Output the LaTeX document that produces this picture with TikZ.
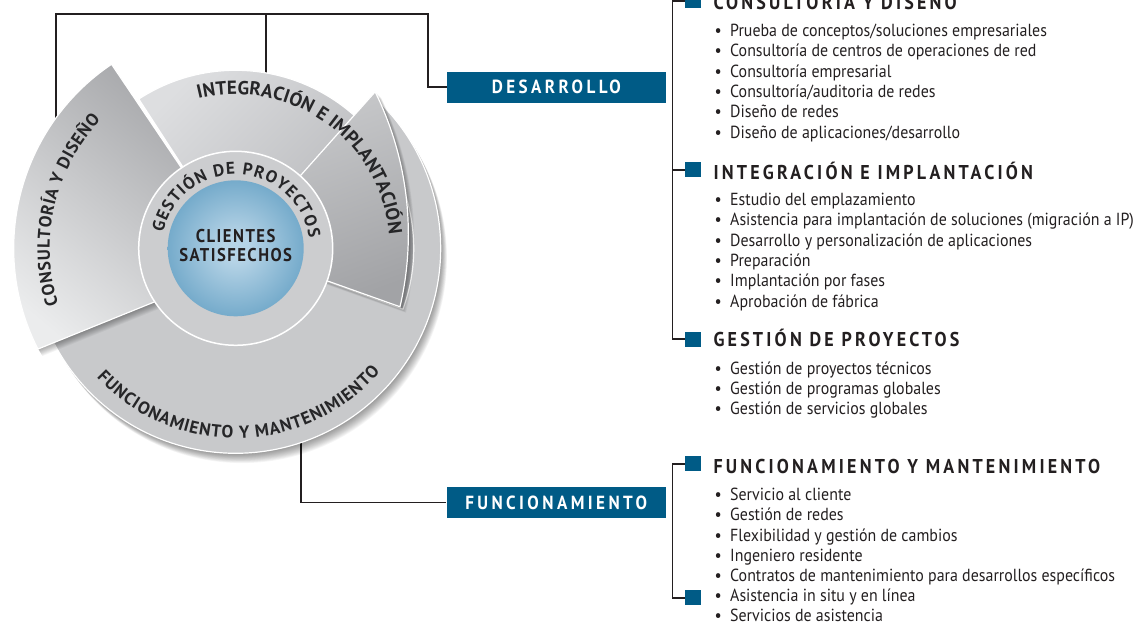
\documentclass[tikz,border=0pt]{standalone}
\usepackage{fontspec}
\setmainfont{PT Sans}[FakeStretch=0.91]
\newfontfamily\headf{PT Sans}[FakeStretch=0.9,LetterSpace=16]
\newfontfamily\boxf{PT Sans}[FakeStretch=0.9,LetterSpace=18]
\newfontfamily\ctrf{PT Sans}[FakeStretch=0.9,LetterSpace=8]
\newfontfamily\ringf{PT Sans}
\usetikzlibrary{calc,decorations.text}
\definecolor{ink}{HTML}{231F20}
\definecolor{ringink}{HTML}{262628}
\definecolor{blueb}{HTML}{005B86}
\definecolor{discg}{HTML}{C8C9CB}
\definecolor{ringg}{HTML}{CCCDCF}
\definecolor{intL}{HTML}{DDDEE0}
\definecolor{intD}{HTML}{ADAEB1}
\definecolor{drkL}{HTML}{C9CACC}
\definecolor{drkD}{HTML}{A2A3A6}
\definecolor{conL}{HTML}{EBECED}
\definecolor{conD}{HTML}{A3A4A7}
\definecolor{blueL}{HTML}{B5D3E6}
\definecolor{blueM}{HTML}{6CA5C7}
\definecolor{blueD}{HTML}{2A78A3}
\pgfdeclareradialshading{bluesh}{\pgfpoint{0bp}{0bp}}{color(0bp)=(blueL); color(5bp)=(blueL); color(28bp)=(blueM); color(50bp)=(blueD)}
\def\cx{235.7}
\def\cy{376.7}
\newcommand\FunSector[1]{\path[#1] (\cx,\cy) -- ++(48.3:205) arc[start angle=48.3,end angle=-153,radius=205] -- cycle;}
\newcommand\IntSector[1]{\path[#1] (\cx,\cy) -- ++(123:178) arc[start angle=123,end angle=-20,radius=178] -- cycle;}
\newcommand\DarkWedge[1]{\path[#1] (\cx,\cy) -- ++(48.3:209.6) arc[start angle=26.3,end angle=-13.1,radius=321] -- cycle;}
\newcommand\ConWedge[1]{\path[#1] (\cx,\cy) -- ++(124:222) arc[start angle=124,end angle=207,radius=222] -- (155,323.3) -- (235.7,355.3) -- cycle;}
\newcommand\bul{\makebox[0pt][c]{•}\hspace{12pt}}
\tikzset{
  conn/.style={draw=ink,line width=1.6pt},
  bluebox/.style={fill=blueb,text=white,minimum width=219.3pt,minimum height=31pt,inner sep=0pt,font=\boxf\bfseries\fontsize{19}{21}\selectfont},
  sq/.style={fill=blueb,minimum width=16pt,minimum height=15pt,inner sep=0pt},
  head/.style={anchor=base west,inner sep=0pt,text=ink,font=\headf\bfseries\fontsize{20}{22}\selectfont},
  item/.style={anchor=base west,inner sep=0pt,text=ink,font=\fontsize{17.5}{19}\selectfont},
  ctr/.style={anchor=base,inner sep=0pt,text=ink,font=\ctrf\bfseries\fontsize{18.5}{20}\selectfont},
  ringdeco/.style={decorate,decoration={text along path,text align=fit to path,text color=ringink,text={#1}}},
  outl/.style={draw=white,line width=1.2pt}
}
\begin{document}
\begin{tikzpicture}[x=1pt,y=1pt]
\useasboundingbox (0,0) rectangle (1144,625);
\clip (0,0) rectangle (1144,625);
\coordinate (O) at (\cx,\cy);
% connectors
\coordinate (c1) at (55.7,505);
\coordinate (c2) at (266,548);
\coordinate (c3) at (300.7,186);
\coordinate (t1) at (55.7,611);
\coordinate (t2) at (266,611);
\coordinate (t3) at (427.7,611);
\node[bluebox] (des) at (556.35,537.8) {DESARROLLO};
\node[bluebox] (fun) at (556.2,122.5) {FUNCIONAMIENTO};
\draw[conn] (c1) -- (t1) -- (t3) |- (des.west);
\draw[conn] (t2) -- (c2);
\draw[conn] (c3) |- (fun.west);
% disc
\foreach \k in {1,...,14} {\FunSector{fill=black,opacity=0.035,shift={(0.45*\k,-0.7*\k)}}}
\FunSector{fill=discg,outl}
\IntSector{top color=intL,bottom color=intD,shading angle=45,outl}
\foreach \k in {1,...,10} {\DarkWedge{fill=black,opacity=0.04,shift={(0.6*\k,-0.6*\k)}}}
\DarkWedge{top color=drkL,bottom color=drkD,shading angle=20,outl}
\foreach \k in {1,...,10} {\ConWedge{fill=black,opacity=0.04,shift={(0.45*\k,-0.7*\k)}}}
\ConWedge{top color=conD,bottom color=conL,shading angle=-40,outl}
\fill[ringg,draw=white,line width=1.5pt] (O) circle (97);
\shade[shading=bluesh] (O) circle (68);
% ring texts
\path[ringdeco={|\ringf\bfseries\fontsize{17}{17}\selectfont|GESTIÓN DE PROYECTOS}] ($(O)+(168:74)$) arc[start angle=168,end angle=8,radius=74];
\path[ringdeco={|\ringf\bfseries\fontsize{19}{19}\selectfont|INTEGRACIÓN E IMPLANTACIÓN}] ($(O)+(104:154)$) arc[start angle=104,end angle=5,radius=154];
\path[ringdeco={|\ringf\bfseries\fontsize{17.5}{17.5}\selectfont|CONSULTORÍA Y DISEÑO}] ($(O)+(197.5:186)$) arc[start angle=197.5,end angle=136.5,radius=186];
\path[ringdeco={|\ringf\bfseries\fontsize{17.5}{17.5}\selectfont|FUNCIONAMIENTO Y MANTENIMIENTO}] ($(O)+(223:190)$) arc[start angle=223,end angle=319.5,radius=190];
\node[ctr] (cl1) at (235.7,382.7) {CLIENTES};
\node[ctr] (cl2) at (235.7,363.3) {SATISFECHOS};
% right side
\coordinate (bk) at (672.5,0);
\node[sq] (sq1) at (693,624) {};
\node[sq] (sq2) at (693,455.2) {};
\node[sq] (sq3) at (693,285.8) {};
\node[sq] (sq4) at (693,161.3) {};
\node[sq] (sq5) at (693,27.2) {};
\draw[conn] (sq1.west) -| (bk |- sq3.west) -- (sq3.west);
\draw[conn] (bk |- sq2.west) -- (sq2.west);
\draw[conn] (sq4.west) -| (bk |- sq5.west) -- (sq5.west);
\node[head] (h1) at (713.3,615.5) {CONSULTORÍA Y DISEÑO};
\node[head] (h2) at (713.3,445.7) {INTEGRACIÓN E IMPLANTACIÓN};
\node[head] (h3) at (713.3,278.3) {GESTIÓN DE PROYECTOS};
\node[head] (h4) at (713.3,151.7) {FUNCIONAMIENTO Y MANTENIMIENTO};
\foreach \txt [count=\i] in {Prueba de conceptos/soluciones empresariales, Consultoría de centros de operaciones de red, Consultoría empresarial, Consultoría/auditoria de redes, Diseño de redes, Diseño de aplicaciones/desarrollo}
  {\node[item] (ga\i) at (718,{588.7-20.4*(\i-1)}) {\bul\txt};}
\foreach \txt [count=\i] in {Estudio del emplazamiento, Asistencia para implantación de soluciones (migración a IP), Desarrollo y personalización de aplicaciones, Preparación, Implantación por fases, Aprobación de fábrica}
  {\node[item] (gb\i) at (718,{419.3-20.3*(\i-1)}) {\bul\txt};}
\foreach \txt [count=\i] in {Gestión de proyectos técnicos, Gestión de programas globales, Gestión de servicios globales}
  {\node[item] (gc\i) at (718,{251-20.3*(\i-1)}) {\bul\txt};}
\foreach \txt [count=\i] in {Servicio al cliente, Gestión de redes, Flexibilidad y gestión de cambios, Ingeniero residente, Contratos de mantenimiento para desarrollos específicos, Asistencia in situ y en línea, Servicios de asistencia}
  {\node[item] (gd\i) at (718,{124.3-20.2*(\i-1)}) {\bul\txt};}
\end{tikzpicture}
\end{document}
